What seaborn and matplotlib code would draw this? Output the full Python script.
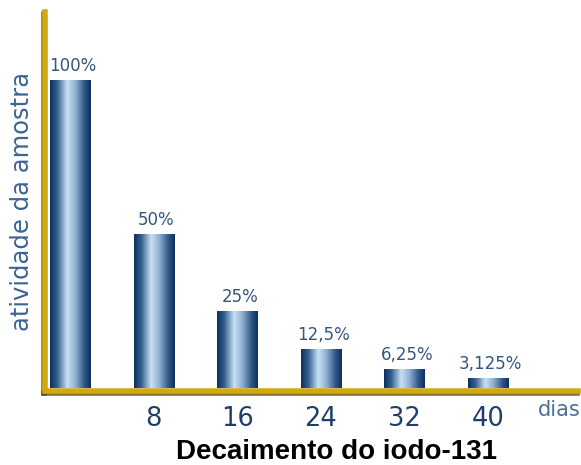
import matplotlib
matplotlib.use("Agg")
import matplotlib.pyplot as plt
import matplotlib.patheffects as pe
from matplotlib.colors import LinearSegmentedColormap
import numpy as np
import pandas as pd
import seaborn as sns

days = ["0", "8", "16", "24", "32", "40"]
tick_labels = ["", "8", "16", "24", "32", "40"]
activity = [100, 50, 25, 12.5, 6.25, 3.125]
value_labels = ["100%", "50%", "25%", "12,5%", "6,25%", "3,125%"]

sns.set_theme(style="white")
plt.rcParams['font.family'] = ['DejaVu Sans']

df = pd.DataFrame({"dias": days, "atividade": activity})

fig = plt.figure(figsize=(5.81, 4.65), dpi=100)
ax = fig.add_axes([45 / 581, 74 / 465, 533 / 581, 379 / 465])

sns.barplot(data=df, x="dias", y="atividade", order=days, color="#1f4a7a",
            width=0.48, ax=ax, saturation=1)

cmap = LinearSegmentedColormap.from_list(
    "bar", [(0.0, "#0c2f5e"), (0.18, "#35608f"), (0.42, "#c9e0f5"),
            (0.62, "#8fb0d2"), (0.85, "#2d5584"), (1.0, "#0c2f5e")])
grad = np.linspace(0, 1, 256).reshape(1, -1)
for p in ax.patches:
    x0, y0 = p.get_x(), p.get_y()
    w, h = p.get_width(), p.get_height()
    im = ax.imshow(grad, cmap=cmap, aspect="auto",
                   extent=[x0, x0 + w, y0, y0 + h], zorder=2)
    im.set_clip_path(p)
    p.set_facecolor("none")
    p.set_edgecolor("none")

for i, (v, t) in enumerate(zip(activity, value_labels)):
    ax.text(i + 0.03, v + 1.6, t, ha="center", va="bottom", fontsize=12,
            color="#34567f")

ax.set_xlim(-0.30, 6.08)
ax.set_ylim(-1, 122)
ax.set_xticks(range(len(days)))
ax.set_xticklabels(tick_labels, fontsize=18.5, color="#1f3f6a")
ax.tick_params(axis="x", length=0, pad=11)
ax.set_yticks([])
ax.set_xlabel("")
ax.set_ylabel("atividade da amostra", fontsize=17.5, color="#3b6494",
              labelpad=8)

for s in ["top", "right"]:
    ax.spines[s].set_visible(False)
for s in ["left", "bottom"]:
    ax.spines[s].set_color("#cfaa10")
    ax.spines[s].set_linewidth(4)
    ax.spines[s].set_zorder(3)
    ax.spines[s].set_path_effects([
        pe.SimpleLineShadow(offset=(-1, -1.5), shadow_color="#5e4a00",
                            alpha=0.8),
        pe.Normal()])

fig.text(538 / 581, 1 - 400 / 465, "dias", ha="left", va="top",
         fontsize=15, color="#4d6e95")

fig.text(336 / 581, 1 - 459 / 465, "Decaimento do iodo-131", ha="center",
         va="baseline", fontsize=20, fontweight="bold",
         family=["Liberation Sans", "DejaVu Sans"], color="black")

fig.savefig("out.png", dpi=100, facecolor="white")
